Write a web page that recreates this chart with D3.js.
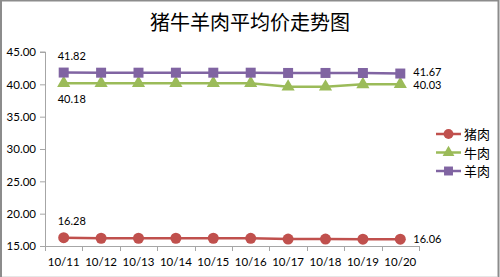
<!DOCTYPE html>
<html>
<head>
<meta charset="utf-8">
<script src="https://cdn.jsdelivr.net/npm/d3@7"></script>
<style>
  html, body { margin: 0; padding: 0; background: #fff; }
  svg { display: block; }
</style>
</head>
<body>
<script>
(function drawChart (d3) {
    "use strict";
    var width = 500,
        height = 277,
        margin = {top: 52, right: 81, bottom: 31, left: 45},
        numFont = "Lato, 'Open Sans', sans-serif",
        cjkFont = "'Noto Sans CJK SC', sans-serif";

    var title = "猪牛羊肉平均价走势图";
    var dates = ["10/11", "10/12", "10/13", "10/14", "10/15", "10/16", "10/17", "10/18", "10/19", "10/20"];
    var pork = [16.28, 16.20, 16.20, 16.20, 16.20, 16.18, 16.08, 16.07, 16.06, 16.06];
    var beef = [40.18, 40.18, 40.18, 40.18, 40.18, 40.18, 39.62, 39.62, 40.00, 40.03];
    var lamb = [41.82, 41.80, 41.80, 41.80, 41.80, 41.80, 41.76, 41.76, 41.75, 41.67];
    var seriesNames = ["猪肉", "牛肉", "羊肉"];
    var yTicks = [15, 20, 25, 30, 35, 40, 45];

    var series = [
        {name: seriesNames[0], values: pork, color: "#c0504d", shape: d3.symbolCircle, size: 95},
        {name: seriesNames[1], values: beef, color: "#9bbb59", shape: d3.symbolTriangle, size: 75},
        {name: seriesNames[2], values: lamb, color: "#8064a2", shape: d3.symbolSquare, size: 100}
    ];

    var svg = d3.select("body").append("svg")
        .attr("width", width)
        .attr("height", height);

    // outer frame
    svg.append("rect")
        .attr("x", 1).attr("y", 0.5)
        .attr("width", width - 2.5).attr("height", height + 5)
        .attr("fill", "#fff")
        .attr("stroke", "#8c8c8c")
        .attr("stroke-width", 2);
    svg.append("line")
        .attr("x1", 2).attr("x2", width - 3)
        .attr("y1", height - 0.5).attr("y2", height - 0.5)
        .attr("stroke", "#e6e6e6");

    svg.append("text")
        .attr("x", 250).attr("y", 30)
        .attr("text-anchor", "middle")
        .style("font-family", cjkFont)
        .style("font-size", "20px")
        .attr("fill", "#000")
        .text(title);

    var x = d3.scaleBand()
        .domain(dates)
        .range([margin.left, width - margin.right]);
    var y = d3.scaleLinear()
        .domain([15, 45])
        .range([height - margin.bottom, margin.top]);

    // y axis
    var yAxis = svg.append("g")
        .attr("transform", "translate(" + margin.left + ",0)")
        .call(d3.axisLeft(y).tickValues(yTicks).tickFormat(d3.format(".2f")).tickSize(5).tickPadding(4));
    yAxis.selectAll("path, line").attr("stroke", "#a6a6a6");
    yAxis.select(".domain").attr("d", "M-5," + y(45) + "H0.5V" + y(15));
    yAxis.selectAll("text")
        .style("font-family", numFont)
        .style("font-size", "11.5px")
        .attr("fill", "#000");

    // x axis with ticks between categories
    var base = y(15);
    var xAxis = svg.append("g");
    xAxis.append("line")
        .attr("x1", margin.left).attr("x2", width - margin.right)
        .attr("y1", base + 0.5).attr("y2", base + 0.5)
        .attr("stroke", "#a6a6a6");
    xAxis.selectAll(".xt")
        .data(dates.concat(["end"]))
        .enter().append("line")
        .attr("class", "xt")
        .attr("x1", function (d, i) { return Math.round(margin.left + i * x.step()) + 0.5; })
        .attr("x2", function (d, i) { return Math.round(margin.left + i * x.step()) + 0.5; })
        .attr("y1", base).attr("y2", base + 5)
        .attr("stroke", "#a6a6a6");
    xAxis.selectAll(".xl")
        .data(dates)
        .enter().append("text")
        .attr("class", "xl")
        .attr("x", function (d) { return x(d) + x.bandwidth() / 2; })
        .attr("y", base + 20)
        .attr("text-anchor", "middle")
        .style("font-family", numFont)
        .style("font-size", "11.5px")
        .attr("fill", "#000")
        .text(function (d) { return d; });

    var line = d3.line()
        .x(function (d, i) { return x(dates[i]) + x.bandwidth() / 2; })
        .y(function (d) { return y(d); });

    series.forEach(function (s) {
        var g = svg.append("g");
        g.append("path")
            .datum(s.values)
            .attr("d", line)
            .attr("fill", "none")
            .attr("stroke", s.color)
            .attr("stroke-width", 2.5);
        g.selectAll("path.pt")
            .data(s.values)
            .enter().append("path")
            .attr("class", "pt")
            .attr("transform", function (d, i) {
                return "translate(" + (x(dates[i]) + x.bandwidth() / 2) + "," + y(d) + ")";
            })
            .attr("d", d3.symbol().type(s.shape).size(s.size))
            .attr("fill", s.color);
    });

    // data labels (first and last)
    var labelStyle = function (sel) {
        sel.style("font-family", numFont).style("font-size", "11px").attr("fill", "#000");
    };
    var cx0 = x(dates[0]) + x.bandwidth() / 2,
        cxN = x(dates[dates.length - 1]) + x.bandwidth() / 2;
    var firstLabels = [
        {v: pork[0], dy: -13},
        {v: beef[0], dy: 20},
        {v: lamb[0], dy: -13}
    ];
    var lastLabels = [
        {v: pork[pork.length - 1], dy: 4},
        {v: beef[beef.length - 1], dy: 5},
        {v: lamb[lamb.length - 1], dy: 2.5}
    ];
    svg.selectAll(".fl").data(firstLabels).enter().append("text")
        .attr("x", cx0 - 6)
        .attr("y", function (d) { return y(d.v) + d.dy; })
        .call(labelStyle)
        .text(function (d) { return d.v.toFixed(2); });
    svg.selectAll(".ll").data(lastLabels).enter().append("text")
        .attr("x", cxN + 13)
        .attr("y", function (d) { return y(d.v) + d.dy; })
        .call(labelStyle)
        .text(function (d) { return d.v.toFixed(2); });

    // legend
    var legend = svg.append("g").attr("transform", "translate(436,134)");
    series.forEach(function (s, i) {
        var row = legend.append("g").attr("transform", "translate(0," + (i * 18.5) + ")");
        row.append("line")
            .attr("x1", 0).attr("x2", 25)
            .attr("stroke", s.color).attr("stroke-width", 2.5);
        row.append("path")
            .attr("transform", "translate(12.5,0)")
            .attr("d", d3.symbol().type(s.shape).size(s.size * 0.8))
            .attr("fill", s.color);
        row.append("text")
            .attr("x", 28).attr("y", 5)
            .style("font-family", cjkFont)
            .style("font-size", "13px")
            .attr("fill", "#000")
            .text(s.name);
    });
})(d3);
</script>
</body>
</html>
